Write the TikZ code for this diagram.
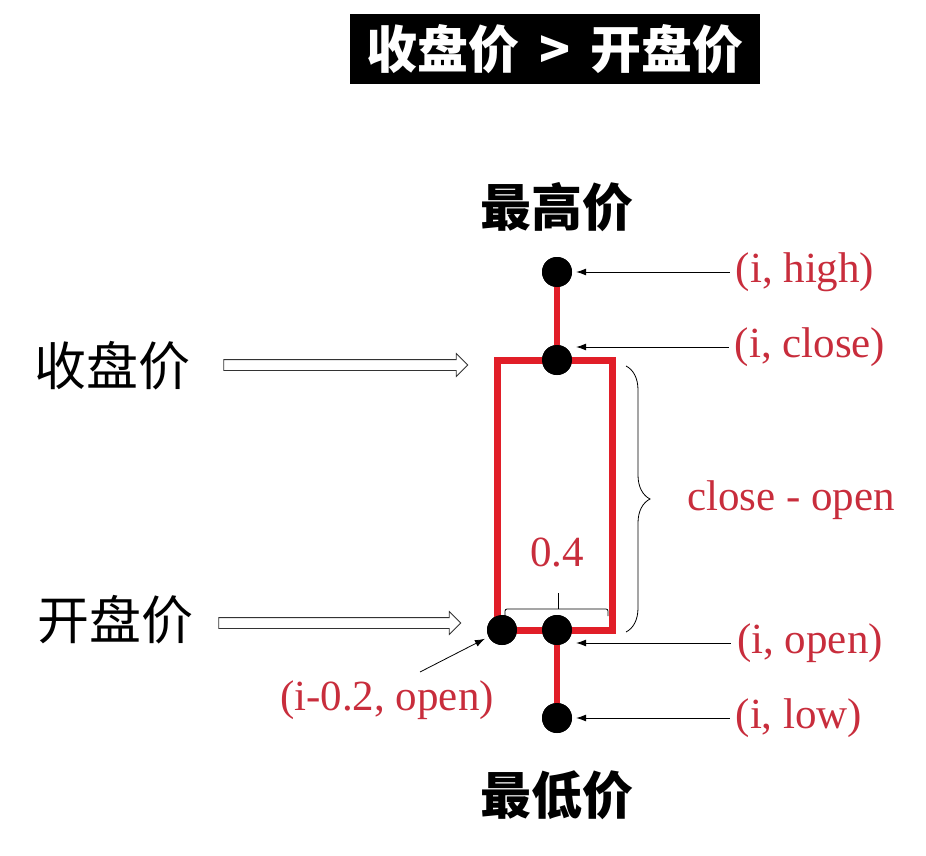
\documentclass[tikz,border=0pt]{standalone}
\usepackage{fontspec}
\setmainfont{Liberation Serif}
\newfontfamily\cjk{Noto Sans CJK SC}
\usetikzlibrary{arrows.meta,shapes.arrows,decorations.pathreplacing}
\definecolor{txtred}{RGB}{200,45,60}
\definecolor{boxred}{RGB}{225,30,40}
\tikzset{
  dot/.style={circle,fill=black,inner sep=0pt,minimum size=30pt},
  wick/.style={draw=boxred,line width=6pt},
  redlbl/.style={text=txtred,font=\fontsize{43}{46}\selectfont,inner sep=2pt},
  cnlbl/.style={font=\cjk\fontsize{52}{56}\selectfont,inner sep=0pt},
  thinarrow/.style={-{Latex[length=10pt,width=7pt]},line width=0.8pt,shorten >=4pt,shorten <=4pt},
  hollow/.style={single arrow,draw=black!80,fill=white,line width=0.8pt,inner xsep=0pt,inner ysep=5pt,single arrow head extend=6pt,single arrow tip angle=90},
}
\begin{document}
\begin{tikzpicture}[x=1pt,y=-1pt]
\useasboundingbox (0,0) rectangle (926,856);
% title
\node[fill=black,text=white,minimum width=410pt,minimum height=70pt,inner sep=0pt,font=\cjk\bfseries\fontsize{51}{54}\selectfont] (title) at (555,49) {收盘价\hspace{20pt}>\hspace{20pt}开盘价};
% candle
\node[dot] (hi) at (557,272) {};
\node[dot] (ci) at (557,360) {};
\node[dot] (oi) at (557,630) {};
\node[dot] (oil) at (502,630) {};
\node[dot] (li) at (557,718) {};
\draw[wick] (hi.center) -- (ci.center);
\draw[wick] (oi.center) -- (li.center);
\draw[draw=boxred,line width=7pt] (497,360) rectangle (612,630);
\node[dot] at (hi) {};
\node[dot] at (ci) {};
\node[dot] at (oi) {};
\node[dot] at (oil) {};
\node[dot] at (li) {};
% chinese labels
\node[cnlbl,font=\cjk\bfseries\fontsize{51}{54}\selectfont] (high) at (557,207) {最高价};
\node[cnlbl,font=\cjk\bfseries\fontsize{51}{54}\selectfont] (low) at (557,795) {最低价};
\node[cnlbl] (closecn) at (112,366) {收盘价};
\node[cnlbl] (opencn) at (115,620) {开盘价};
% hollow arrows
\node[hollow,minimum height=244pt] (ca) at (343,365) {};
\node[hollow,minimum height=242pt] (oa) at (337,623) {};
% red labels
\node[redlbl] (hl) at (805,272) {(i, high)};
\node[redlbl] (cl) at (810,347) {(i, close)};
\node[redlbl] (col) at (791,500) {close - open};
\node[redlbl] (ol) at (810,643) {(i, open)};
\node[redlbl] (lwl) at (799,718) {(i, low)};
\node[redlbl] (il) at (387,700) {(i-0.2, open)};
\node[redlbl] (w) at (557,553) {0.4};
% thin arrows
\draw[thinarrow] (hl.west) -- (hl.west -| hi.east);
\draw[thinarrow] (cl.west) -- (cl.west -| ci.east);
\draw[thinarrow] (ol.west) -- (ol.west -| oi.east);
\draw[thinarrow] (lwl.west) -- (lwl.west -| li.east);
\coordinate (ilarr) at (420,672);
\draw[thinarrow,shorten <=0pt] (ilarr) -- (oil);
% braces
\draw[line width=0.8pt,decorate,decoration={brace,amplitude=24pt}] (626,366) -- (626,632);
\draw[line width=0.8pt,rounded corners=2pt] (505,616) -- (505,609) -- (608,609) -- (608,616);
\draw[line width=0.8pt] (558,609) -- (558,593);
\end{tikzpicture}
\end{document}
